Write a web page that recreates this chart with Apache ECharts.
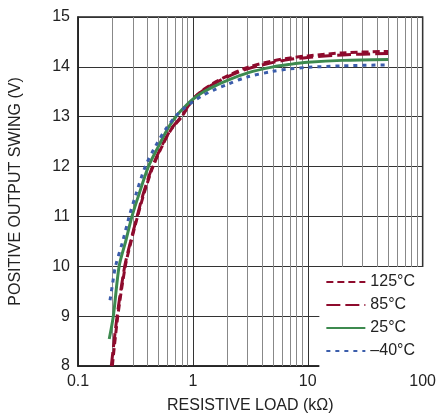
<!DOCTYPE html>
<html>
<head>
<meta charset="utf-8">
<script src="https://cdn.jsdelivr.net/npm/echarts@6/dist/echarts.min.js"></script>
<style>
html, body { margin: 0; padding: 0; background: #fff; }
#main { width: 439px; height: 419px; }
</style>
</head>
<body>
<div id="main"></div>
<script>
var FONT = '"Liberation Sans Narrow", "Liberation Sans", Arial, sans-serif';

// resistive load (kOhm) and output swing (V) for each temperature
var r125 = [0.199, 0.222, 0.258, 0.29, 0.33, 0.38, 0.45, 0.55, 0.65, 0.8, 1, 1.2, 1.5, 2, 3, 5, 7, 10, 20, 50];
var v125 = [8.0, 9, 10, 10.5, 11, 11.5, 12, 12.45, 12.75, 13, 13.35, 13.52, 13.67, 13.82, 13.99, 14.12, 14.18, 14.22, 14.28, 14.31];

var r85 = [0.195, 0.219, 0.255, 0.287, 0.327, 0.375, 0.445, 0.545, 0.645, 0.79, 1, 1.2, 1.5, 2, 3, 5, 7, 10, 20, 50];
var v85 = [8.0, 9, 10, 10.5, 11, 11.5, 12, 12.45, 12.75, 13, 13.35, 13.51, 13.65, 13.8, 13.96, 14.09, 14.15, 14.19, 14.24, 14.27];

var r25 = [0.187, 0.203, 0.228, 0.26, 0.295, 0.34, 0.41, 0.5, 0.6, 0.71, 0.85, 1, 1.2, 1.5, 2, 3, 5, 7, 10, 20, 50];
var v25 = [8.54, 9, 10, 10.5, 11, 11.45, 12, 12.4, 12.75, 13, 13.2, 13.35, 13.48, 13.6, 13.73, 13.88, 14, 14.05, 14.09, 14.13, 14.15];

var rm40 = [0.19, 0.2, 0.212, 0.245, 0.279, 0.32, 0.385, 0.47, 0.58, 0.72, 0.85, 1, 1.2, 1.5, 2, 3, 5, 7, 10, 20, 50];
var vm40 = [9.32, 9.65, 10, 10.5, 11, 11.45, 12, 12.4, 12.75, 13.03, 13.18, 13.3, 13.42, 13.53, 13.65, 13.8, 13.91, 13.96, 13.99, 14.02, 14.04];

var seriesNames = ['125°C', '85°C', '25°C', '\u201340°C'];
var minorTicks = [0.2, 0.3, 0.4, 0.5, 0.6, 0.7, 0.8, 0.9, 2, 3, 4, 5, 6, 7, 8, 9, 20, 30, 40, 50, 60, 70, 80, 90];

var RED = '#8e0b2d', GREEN = '#3d8a4f', BLUE = '#3b5dab';

function pairs(xs, ys) {
    var out = [];
    for (var i = 0; i < xs.length; i++) out.push([xs[i], ys[i]]);
    return out;
}

function curve(name, xs, ys, color, dash) {
    return {
        name: name,
        type: 'line',
        data: pairs(xs, ys),
        smooth: 0.3,
        symbol: 'none',
        z: 3,
        lineStyle: { color: color, width: 3, type: dash },
        itemStyle: { color: color }
    };
}

var chart = echarts.init(document.getElementById('main'));
chart.setOption({
    animation: false,
    grid: { left: 75, top: 17, right: 12, bottom: 51, show: true, borderColor: '#222', borderWidth: 1.5 },
    legend: {
        data: seriesNames,
        orient: 'vertical',
        right: 12,
        bottom: 51,
        z: 20,
        backgroundColor: '#fff',
        padding: [7, 12, 9, 6],
        itemWidth: 39,
        itemHeight: 14,
        itemGap: 7,
        itemStyle: { opacity: 0 },
        textStyle: { fontFamily: FONT, fontSize: 16, color: '#222' }
    },
    xAxis: {
        type: 'log',
        logBase: 10,
        min: 0.1,
        max: 100,
        name: 'RESISTIVE LOAD (kΩ)',
        nameLocation: 'middle',
        nameGap: 32,
        nameTextStyle: { fontFamily: FONT, fontSize: 16, color: '#222' },
        axisLine: { show: true, lineStyle: { color: '#222', width: 1.5 } },
        axisTick: { show: false },
        axisLabel: {
            fontFamily: FONT, fontSize: 16, color: '#222', margin: 8,
            formatter: function (v) { return String(+v.toPrecision(3)); }
        },
        splitLine: { show: true, lineStyle: { color: '#333', width: 1 } }
    },
    yAxis: {
        type: 'value',
        min: 8,
        max: 15,
        interval: 1,
        name: 'POSITIVE OUTPUT SWING (V)',
        nameLocation: 'middle',
        nameGap: 54,
        nameTextStyle: { fontFamily: FONT, fontSize: 16, color: '#222' },
        axisLine: { show: true, lineStyle: { color: '#222', width: 1.5 } },
        axisTick: { show: false },
        axisLabel: { fontFamily: FONT, fontSize: 16, color: '#222', margin: 8 },
        splitLine: { show: true, lineStyle: { color: '#333', width: 1 } }
    },
    series: [
        {
            name: 'grid',
            type: 'line',
            data: [],
            silent: true,
            z: 1,
            markLine: {
                silent: true,
                z: 1,
                symbol: ['none', 'none'],
                label: { show: false },
                lineStyle: { color: '#888', type: 'solid', width: 1 },
                data: minorTicks.map(function (v) { return { xAxis: v }; })
            }
        },
        curve(seriesNames[0], r125, v125, RED, [7, 4]),
        curve(seriesNames[1], r85, v85, RED, [14, 5]),
        curve(seriesNames[2], r25, v25, GREEN, 'solid'),
        curve(seriesNames[3], rm40, vm40, BLUE, [4, 5])
    ]
});
</script>
</body>
</html>
